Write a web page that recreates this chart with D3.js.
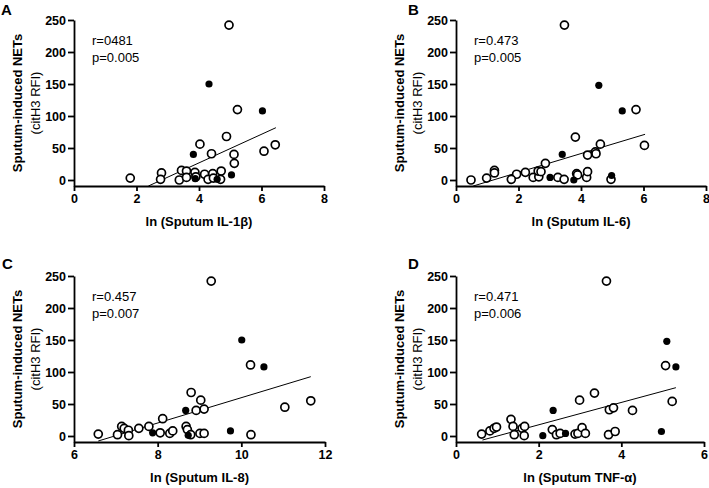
<!DOCTYPE html>
<html>
<head>
<meta charset="utf-8">
<script src="https://cdn.jsdelivr.net/npm/d3@7"></script>
<style>
  html, body { margin: 0; padding: 0; background: #fff; }
  svg { display: block; font-family: Arial, "Liberation Sans", Helvetica, sans-serif; }
</style>
</head>
<body>
<svg id="chart" width="709" height="488"></svg>
<script>
// panel A: ln(Sputum IL-1b)
const openA = [[4.96,242],[5.23,110],[4.88,68],[4.03,56],[4.40,41],[5.12,40],[5.13,26],[6.08,45],[6.44,55],
  [1.80,3],[2.80,11],[2.77,1],[3.37,0],[3.44,15],[3.60,14],[3.60,4],[3.87,12],[3.90,5],[4.18,9],
  [4.29,1],[4.44,10],[4.46,3],[4.71,14],[4.69,1]];
const filledA = [[4.32,150],[6.03,108],[3.82,40],[5.04,8],[3.88,2],[4.58,1]];
const fitA = [[2.38,-9.4],[6.46,81.7]];

// panel B: ln(Sputum IL-6)
const openB = [[3.47,242],[5.76,110],[3.82,67],[6.03,54],[4.62,56],[4.46,44],[4.48,41],[4.21,39],
  [2.86,26],[2.22,12],[1.94,9],[0.98,3],[0.48,0],[1.23,15],[1.23,11],[1.77,1],[2.47,4],[2.65,5],
  [2.63,14],[2.72,13],[3.26,4],[3.46,1],[3.86,10],[3.89,8],[4.18,4],[4.21,13],[4.96,1]];
const filledB = [[4.57,148],[5.32,108],[3.40,40],[3.01,4],[3.77,0],[4.98,7]];
const fitB = [[0.55,-9.4],[6.05,71.4]];

// panel C: ln(Sputum IL-8)
const openC = [[9.28,242],[10.22,111],[8.80,68],[9.03,56],[8.92,40],[9.11,42],[11.04,45],[11.66,55],
  [8.12,27],[6.58,3],[7.04,2],[7.14,15],[7.20,12],[7.30,9],[7.31,0.5],[7.55,12],[7.79,15],[8.06,5],
  [8.29,4],[8.36,8],[8.68,15],[8.71,10],[8.79,2],[9.01,4],[9.11,4],[10.23,2]];
const filledC = [[10.01,150],[10.54,108],[8.67,40],[7.88,5],[8.73,1],[9.74,8]];
const fitC = [[6.58,-7.8],[11.66,92.7]];

// panel D: ln(Sputum TNF-a)
const openD = [[3.64,242],[5.07,110],[3.35,67],[2.99,56],[5.23,54],[3.71,41],[3.81,44],[4.27,40],
  [0.62,3],[0.82,8],[0.92,12],[0.98,14],[1.33,26],[1.38,15],[1.41,2],[1.60,12],[1.66,15],[1.65,0.5],
  [2.33,10],[2.43,2],[2.52,4],[2.88,3],[2.95,4],[3.05,13],[3.13,4],[3.69,2],[3.85,7]];
const filledD = [[5.10,148],[5.32,108],[2.35,40],[2.10,0.5],[2.65,4],[4.97,7]];
const fitD = [[0.64,-6.3],[5.32,75.5]];

const yTicks = [0, 50, 100, 150, 200, 250];
const xTicksA = [0, 2, 4, 6, 8];
const xTicksC = [6, 8, 10, 12];
const xTicksD = [0, 2, 4, 6];

const panels = [
  { letter: 'A', open: openA, filled: filledA, fit: fitA, stats: ['r=0481', 'p=0.005'],
    xTitle: 'ln (Sputum IL-1\u03b2)', xDomain: [0, 8], xTicks: xTicksA,
    left: 74, right: 324, top: 20, bottom: 186, letterX: 1, letterY: 15 },
  { letter: 'B', open: openB, filled: filledB, fit: fitB, stats: ['r=0.473', 'p=0.005'],
    xTitle: 'ln (Sputum IL-6)', xDomain: [0, 8], xTicks: xTicksA,
    left: 456, right: 706, top: 20, bottom: 186, letterX: 408, letterY: 15 },
  { letter: 'C', open: openC, filled: filledC, fit: fitC, stats: ['r=0.457', 'p=0.007'],
    xTitle: 'ln (Sputum IL-8)', xDomain: [6, 12], xTicks: xTicksC,
    left: 74, right: 325, top: 276, bottom: 442, letterX: 2, letterY: 269 },
  { letter: 'D', open: openD, filled: filledD, fit: fitD, stats: ['r=0.471', 'p=0.006'],
    xTitle: 'ln (Sputum TNF-\u03b1)', xDomain: [0, 6], xTicks: xTicksD,
    left: 456, right: 704, top: 276, bottom: 442, letterX: 408, letterY: 269 }
];

const svg = d3.select('#chart');
const fmt = d3.format('d');

panels.forEach(p => {
  const g = svg.append('g');
  // y: 0 sits 6px above the x axis, 250 at top
  const yMin = -6 / ((p.bottom - p.top) / 259.375);
  const x = d3.scaleLinear().domain(p.xDomain).range([p.left, p.right]);
  const y = d3.scaleLinear().domain([yMin, 250]).range([p.bottom, p.top]);

  // y axis
  const yAxis = g.append('g')
    .attr('transform', `translate(${p.left},0)`)
    .call(d3.axisLeft(y).tickValues(yTicks).tickFormat(fmt).tickSize(6).tickSizeOuter(0).tickPadding(2));
  // x axis
  const xAxis = g.append('g')
    .attr('transform', `translate(0,${p.bottom})`)
    .call(d3.axisBottom(x).tickValues(p.xTicks).tickFormat(fmt).tickSize(5).tickSizeOuter(0).tickPadding(3));

  [yAxis, xAxis].forEach(a => {
    a.select('.domain').attr('stroke', '#000').attr('stroke-width', 1.8);
    a.selectAll('.tick line').attr('stroke', '#000').attr('stroke-width', 1.8);
    a.selectAll('.tick text')
      .attr('fill', '#000')
      .attr('font-size', 12.5)
      .attr('font-weight', 'bold')
      .attr('font-family', 'Arial, "Liberation Sans", Helvetica, sans-serif');
  });

  // regression line
  g.append('line')
    .attr('x1', x(p.fit[0][0])).attr('y1', y(p.fit[0][1]))
    .attr('x2', x(p.fit[1][0])).attr('y2', y(p.fit[1][1]))
    .attr('stroke', '#000').attr('stroke-width', 1);

  // open circles
  g.selectAll('.open').data(p.open).enter()
    .append('circle')
    .attr('class', 'open')
    .attr('cx', d => x(d[0])).attr('cy', d => y(d[1]))
    .attr('r', 4)
    .attr('fill', '#fff').attr('stroke', '#000').attr('stroke-width', 1.7);

  // filled circles
  g.selectAll('.filled').data(p.filled).enter()
    .append('circle')
    .attr('class', 'filled')
    .attr('cx', d => x(d[0])).attr('cy', d => y(d[1]))
    .attr('r', 3.6)
    .attr('fill', '#000');

  // stats
  p.stats.forEach((s, i) => {
    g.append('text')
      .attr('x', p.left + 18).attr('y', p.top + 25 + i * 17)
      .attr('font-size', 13).attr('fill', '#000')
      .text(s);
  });

  // x title
  g.append('text')
    .attr('x', (p.left + p.right) / 2).attr('y', p.bottom + 40)
    .attr('text-anchor', 'middle')
    .attr('font-size', 13).attr('font-weight', 'bold')
    .text(p.xTitle);

  // y title (two lines, rotated)
  const cy = (p.top + p.bottom) / 2;
  g.append('text')
    .attr('transform', `translate(${p.left - 52},${cy}) rotate(-90)`)
    .attr('text-anchor', 'middle')
    .attr('font-size', 13).attr('font-weight', 'bold')
    .text('Sputum-induced NETs');
  g.append('text')
    .attr('transform', `translate(${p.left - 34},${cy}) rotate(-90)`)
    .attr('text-anchor', 'middle')
    .attr('font-size', 13)
    .text('(citH3 RFI)');

  // panel letter
  svg.append('text')
    .attr('x', p.letterX).attr('y', p.letterY)
    .attr('font-size', 15).attr('font-weight', 'bold')
    .text(p.letter);
});
</script>
</body>
</html>
